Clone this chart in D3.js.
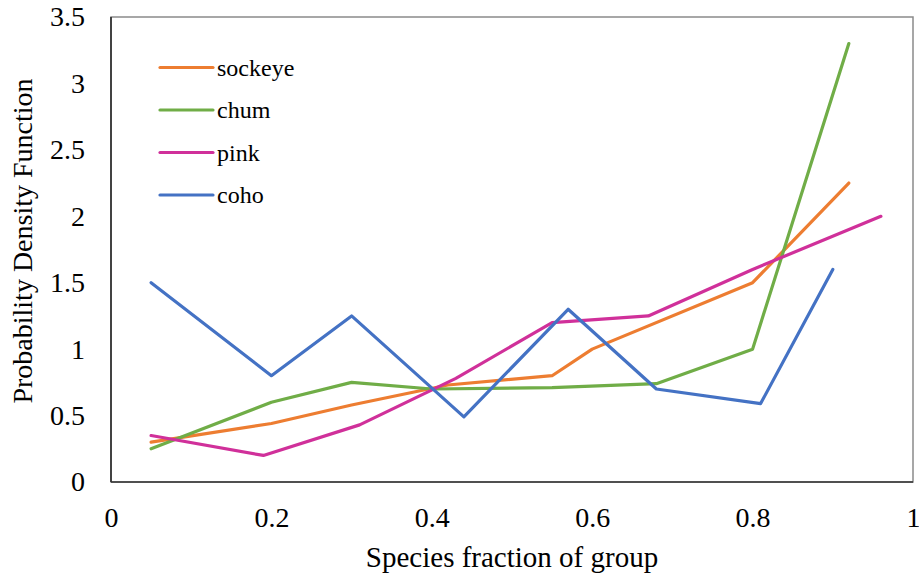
<!DOCTYPE html>
<html><head><meta charset="utf-8">
<script src="https://cdn.jsdelivr.net/npm/d3@7"></script>
<style>body{margin:0;background:#fff}</style>
</head><body><svg id="c" width="919" height="581"></svg>
<script>
const seriesNames = ["sockeye","chum","pink","coho"];
const colors = ["#ED7D31","#70AD47","#D0309A","#4472C4"];
const sockeyeX = [0.05,0.2,0.3,0.42,0.55,0.6,0.8,0.92];
const sockeyeY = [0.30,0.44,0.58,0.73,0.80,1.0,1.50,2.25];
const chumX = [0.05,0.2,0.3,0.4,0.55,0.68,0.8,0.92];
const chumY = [0.25,0.60,0.75,0.70,0.71,0.74,1.0,3.30];
const pinkX = [0.05,0.19,0.31,0.43,0.55,0.67,0.8,0.96];
const pinkY = [0.35,0.20,0.43,0.78,1.20,1.25,1.60,2.0];
const cohoX = [0.05,0.2,0.3,0.44,0.57,0.68,0.81,0.9];
const cohoY = [1.50,0.80,1.25,0.49,1.30,0.70,0.59,1.60];
const xTicks = [0,0.2,0.4,0.6,0.8,1];
const yTicks = [0,0.5,1,1.5,2,2.5,3,3.5];
const xTitle = "Species fraction of group";
const yTitle = "Probability Density Function";

const FONT = "'Liberation Serif'";
const allX = [sockeyeX,chumX,pinkX,cohoX], allY=[sockeyeY,chumY,pinkY,cohoY];
const svg = d3.select("#c");
const L=111,R=913,T=17,B=482;
const x = d3.scaleLinear().domain([0,1]).range([L,R]);
const y = d3.scaleLinear().domain([0,3.5]).range([B,T]);

svg.append("rect").attr("x",L).attr("y",T).attr("width",R-L).attr("height",B-T)
  .attr("fill","none").attr("stroke","#8a8a8a").attr("stroke-width",1.5);
svg.append("line").attr("x1",L).attr("x2",L).attr("y1",T).attr("y2",B).attr("stroke","#222").attr("stroke-width",1.5);
svg.append("line").attr("x1",L).attr("x2",R).attr("y1",B).attr("y2",B).attr("stroke","#333").attr("stroke-width",1.5);

const xa = svg.append("g").attr("transform",`translate(0,${B})`)
  .call(d3.axisBottom(x).tickValues(xTicks).tickSize(0).tickPadding(25).tickFormat(d=>d3.format("")(d)));
xa.select(".domain").remove();
xa.attr("font-family",null).attr("font-size",null);
xa.selectAll("text").style("font-size","28px").style("font-family",FONT).attr("fill","#000");
const ya = svg.append("g").attr("transform",`translate(${L},0)`)
  .call(d3.axisLeft(y).tickValues(yTicks).tickSize(0).tickPadding(26).tickFormat(d=>d3.format("")(d)));
ya.select(".domain").remove();
ya.attr("font-family",null).attr("font-size",null);
ya.selectAll("text").style("font-size","28px").style("font-family",FONT).attr("fill","#000");

const line = d3.line().x(d=>x(d[0])).y(d=>y(d[1]));
seriesNames.forEach((n,i)=>{
  const pts = allX[i].map((v,j)=>[v,allY[i][j]]);
  svg.append("path").datum(pts).attr("d",line).attr("fill","none")
    .attr("stroke",colors[i]).attr("stroke-width",3.2).attr("stroke-linejoin","round").attr("stroke-linecap","round");
});

const leg = svg.append("g");
seriesNames.forEach((n,i)=>{
  const yy = 67.5 + i*42.5;
  leg.append("line").attr("x1",160).attr("x2",213).attr("y1",yy).attr("y2",yy).attr("stroke",colors[i]).attr("stroke-width",3.2).attr("stroke-linecap","round");
  leg.append("text").attr("x",217).attr("y",yy+8).style("font-size","24px").style("font-family",FONT).text(n);
});

svg.append("text").attr("x",512).attr("y",567).attr("text-anchor","middle").style("font-size","29px").style("font-family",FONT).text(xTitle);
svg.append("text").attr("transform","translate(32,241) rotate(-90)").attr("text-anchor","middle").style("font-size","28px").style("font-family",FONT).text(yTitle);
</script></body></html>
